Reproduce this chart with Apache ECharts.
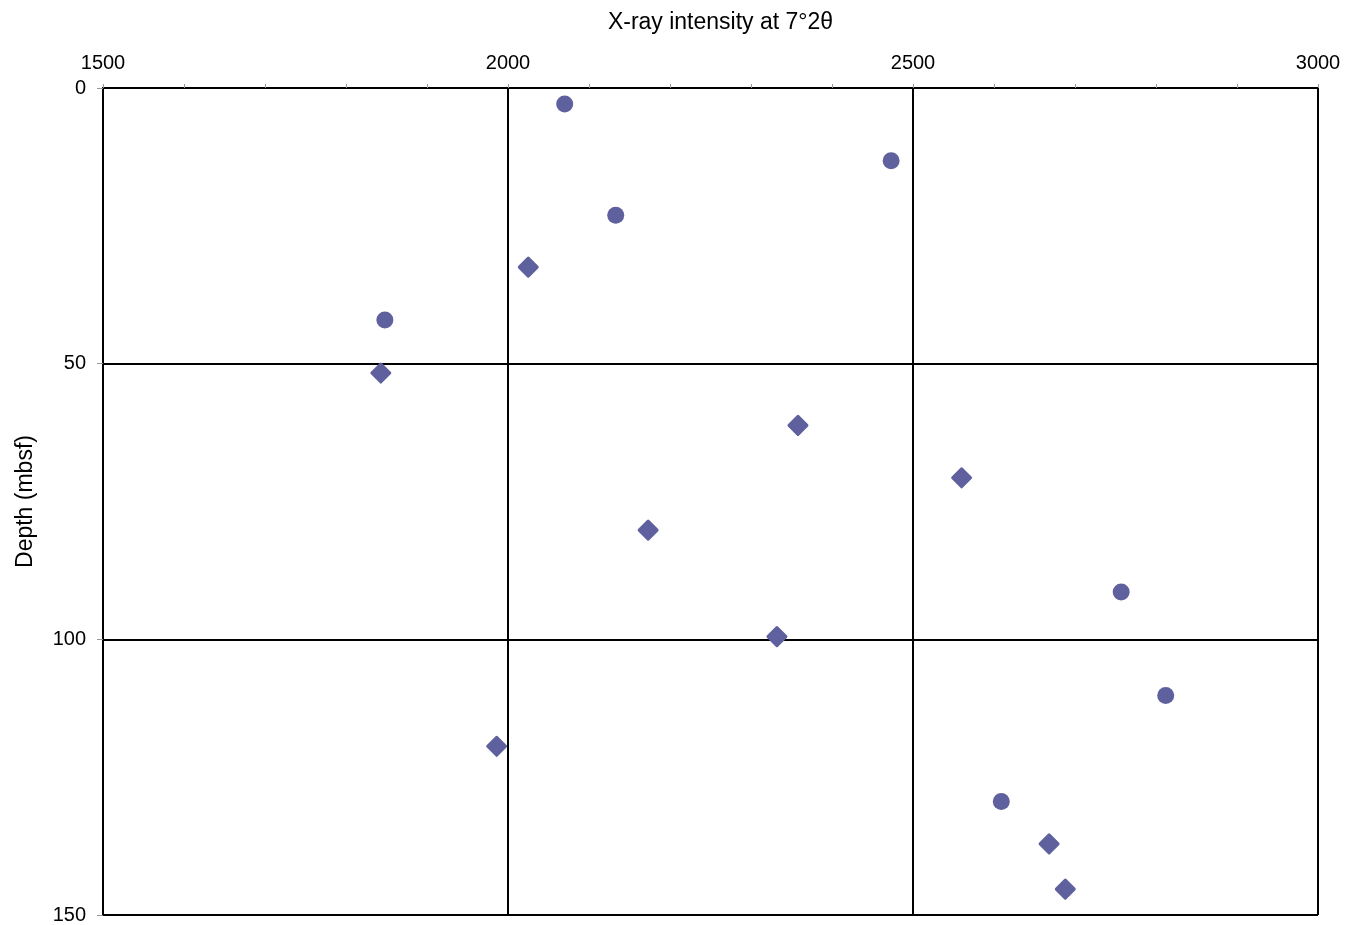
<!DOCTYPE html>
<html>
<head>
<meta charset="utf-8">
<title>X-ray intensity vs depth</title>
<script src="https://cdn.jsdelivr.net/npm/echarts@6/dist/echarts.min.js"></script>
<style>
  html, body { margin: 0; padding: 0; background: #ffffff; }
  #chart { width: 1358px; height: 925px; }
</style>
</head>
<body>
<div id="chart"></div>
<script>
// Samples drawn as round markers: [X-ray intensity, depth (mbsf)]
const roundIntensity = [2070, 2473, 2133, 1848, 2757, 2812, 2609];
const roundDepth     = [2.9, 13.2, 23.1, 42.1, 91.4, 110.2, 129.4];

// Samples drawn as diamond markers
const diamondIntensity = [2025, 1843, 2358, 2560, 2173, 2332, 1986, 2668, 2688];
const diamondDepth     = [32.5, 51.7, 61.2, 70.7, 80.2, 99.5, 119.4, 137.1, 145.3];

// Axis ranges and tick steps
const xTicks = { min: 1500, max: 3000, step: 500 };
const yTicks = { min: 0, max: 150, step: 50 };

const pairs = (xs, ys) => xs.map((x, i) => [x, ys[i]]);

const FONT = '"Liberation Sans", Arial, Helvetica, sans-serif';
const markColor = '#5f609e';

const chart = echarts.init(document.getElementById('chart'));
chart.setOption({
  animation: false,
  backgroundColor: '#ffffff',
  grid: { left: 103, top: 88, width: 1215, height: 831, containLabel: false },
  xAxis: {
    type: 'value',
    position: 'top',
    min: xTicks.min,
    max: xTicks.max,
    interval: xTicks.step,
    name: 'X-ray intensity at 7°2θ',
    nameLocation: 'middle',
    nameGap: 54,
    nameTextStyle: { fontFamily: FONT, fontSize: 23, color: '#000', padding: [0, 0, 0, 20] },
    axisLine: { show: true, lineStyle: { color: '#000', width: 2 } },
    axisTick: { show: true, inside: false, length: 4, lineStyle: { color: '#999', width: 1 } },
    minorTick: { show: true, splitNumber: 5, length: 4, lineStyle: { color: '#999', width: 1 } },
    axisLabel: { fontFamily: FONT, fontSize: 20, color: '#000', margin: 15, formatter: v => String(v) },
    splitLine: { show: true, showMinLine: true, showMaxLine: true, lineStyle: { color: '#000', width: 2 } }
  },
  yAxis: {
    type: 'value',
    inverse: true,
    min: yTicks.min,
    max: yTicks.max,
    interval: yTicks.step,
    name: 'Depth (mbsf)',
    nameLocation: 'middle',
    nameGap: 66,
    nameRotate: 90,
    nameTextStyle: { fontFamily: FONT, fontSize: 23, color: '#000' },
    axisLine: { show: true, lineStyle: { color: '#000', width: 2 } },
    axisTick: { show: true, inside: false, length: 6, lineStyle: { color: '#999', width: 1 } },
    axisLabel: { fontFamily: FONT, fontSize: 20, color: '#000', margin: 17, formatter: v => String(v) },
    splitLine: { show: true, showMinLine: true, showMaxLine: true, lineStyle: { color: '#000', width: 2 } }
  },
  series: [
    {
      name: 'round',
      type: 'scatter',
      symbol: 'circle',
      symbolSize: 17,
      itemStyle: { color: markColor, opacity: 1 },
      data: pairs(roundIntensity, roundDepth)
    },
    {
      name: 'diamond',
      type: 'scatter',
      symbol: 'diamond',
      symbolSize: 18,
      itemStyle: { color: markColor, opacity: 1, borderColor: markColor, borderWidth: 3, borderJoin: 'round' },
      data: pairs(diamondIntensity, diamondDepth)
    }
  ]
});
</script>
</body>
</html>
